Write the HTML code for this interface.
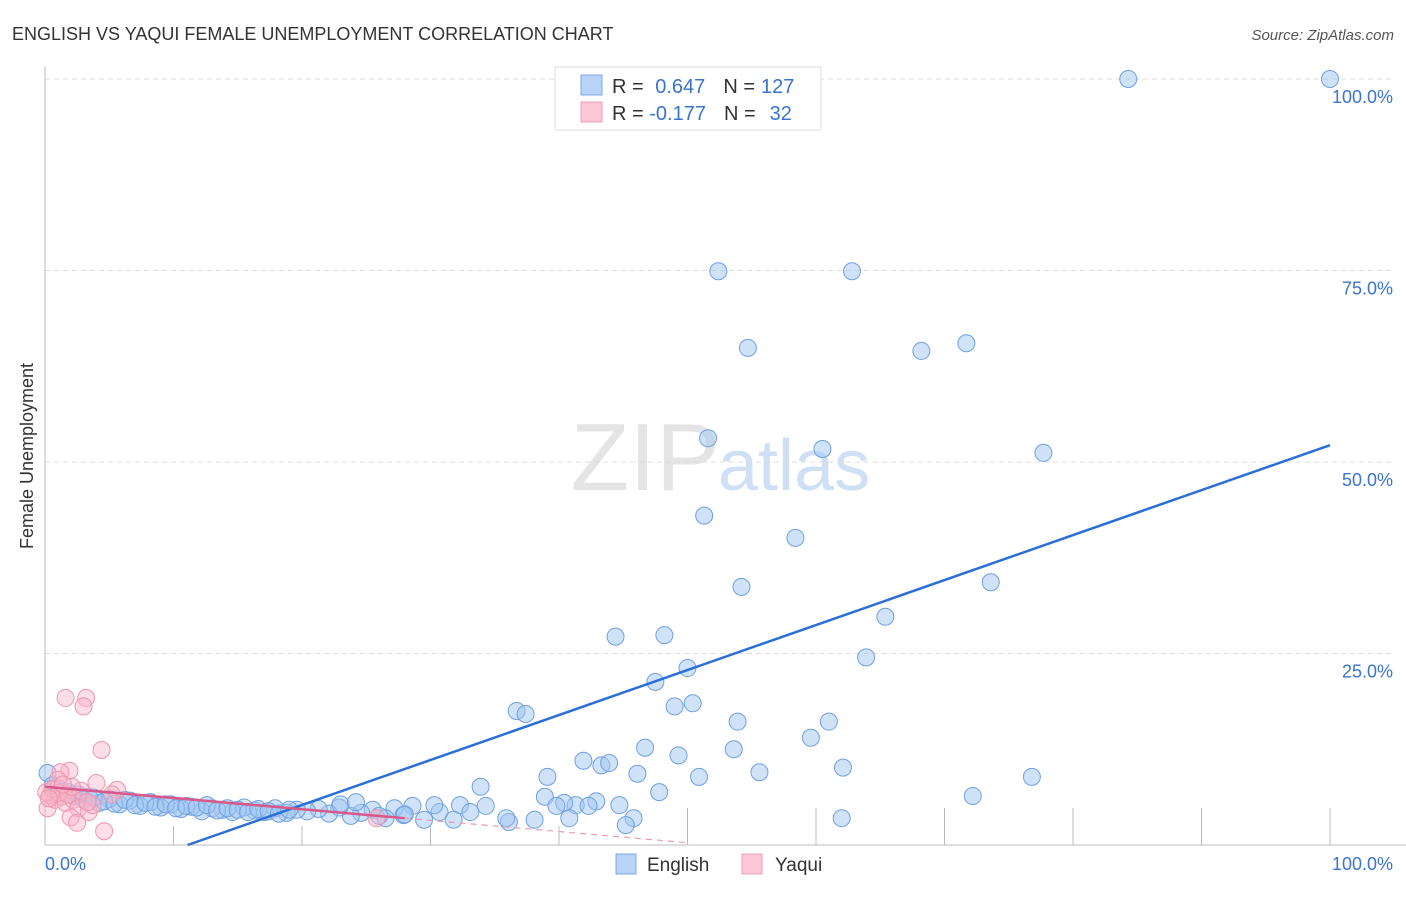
<!DOCTYPE html>
<html><head><meta charset="utf-8"><style>
body{margin:0;background:#fff;font-family:"Liberation Sans",sans-serif}
svg text{font-family:"Liberation Sans",sans-serif}
</style></head><body>
<svg id="chart" width="1406" height="892" xmlns="http://www.w3.org/2000/svg">
<text x="12" y="40" font-size="18" fill="#333">ENGLISH VS YAQUI FEMALE UNEMPLOYMENT CORRELATION CHART</text>
<text x="1394" y="40" font-size="15" fill="#555" font-style="italic" text-anchor="end">Source: ZipAtlas.com</text>
<text x="720" y="490" font-size="96" fill="#e4e4e4" text-anchor="end" font-family="Liberation Serif">ZIP</text>
<text x="718" y="490" font-size="72" fill="#cfe0f5">atlas</text>
<text transform="translate(33,456) rotate(-90)" font-size="18" fill="#333" text-anchor="middle">Female Unemployment</text>
<g id="grid"></g><g id="axes"></g><g id="marks"></g>
<g>
<rect x="555" y="67" width="266" height="63" fill="#fff" stroke="#ddd"/>
<rect x="581" y="75" width="21" height="20" fill="#b8d3f5" stroke="#7aa9e8"/>
<rect x="581" y="102" width="21" height="20" fill="#fcc8d6" stroke="#f09ab2"/>
<text x="612" y="93" font-size="20" fill="#333">R = <tspan fill="#3a73d0" dx="6">0.647</tspan><tspan dx="18" fill="#333">N =</tspan><tspan fill="#3a73d0" dx="6">127</tspan></text>
<text x="612" y="120" font-size="20" fill="#333">R = <tspan fill="#3a73d0">-0.177</tspan><tspan dx="18" fill="#333">N =</tspan><tspan fill="#3a73d0" dx="14">32</tspan></text>
</g>
<g>
<rect x="616" y="854" width="20" height="20" fill="#b8d3f5" stroke="#7aa9e8"/>
<text x="647" y="871" font-size="19" fill="#333">English</text>
<rect x="742" y="854" width="20" height="20" fill="#fcc8d6" stroke="#f09ab2"/>
<text x="775" y="871" font-size="19" fill="#333">Yaqui</text>
</g>
</svg>
<script>
const yTicks=[25,50,75,100];
const yTickLabels=["25.0%","50.0%","75.0%","100.0%"];
const xTickLabels=["0.0%","100.0%"];
const englishX=[84.3,100,52.4,62.8,54.7,68.2,71.7,51.6,60.5,77.7,51.3,58.4,54.2,73.6,44.4,48.2,65.4,50.0,47.5,63.9,49.0,50.4,36.7,37.4,53.9,61.0,59.6,46.7,49.3,53.6,41.9,43.3,43.9,46.1,50.9,55.6,62.1,76.8,39.1,33.9,38.9,47.8,72.2,62.0,45.8,45.2,44.7,42.9,41.3,40.4,39.8,40.8,42.3,38.1,36.1,35.9,34.3,32.3,33.1,30.7,30.3,31.8,29.5,28.6,27.2,26.5,27.9,25.5,24.6,23.8,22.9,22.1,21.3,20.4,19.6,18.8,17.9,17.1,16.3,15.5,14.6,13.8,13.0,12.2,11.4,10.6,9.8,9.0,8.2,7.4,6.6,5.8,5.0,4.2,3.4,2.6,1.8,1.0,0.2,0.6,1.4,2.2,3.0,3.8,4.6,5.4,6.2,7.0,7.8,8.6,9.4,10.2,11.0,11.8,12.6,13.4,14.2,15.0,15.8,16.6,17.4,18.2,19.0,23.0,24.2,26.0,28.0];
const englishY=[100,100,74.9,74.9,64.9,64.5,65.5,53.1,51.7,51.2,43.0,40.1,33.7,34.3,27.2,27.4,29.8,23.1,21.3,24.5,18.1,18.5,17.5,17.1,16.1,16.1,14.0,12.7,11.7,12.5,11.0,10.4,10.7,9.3,8.9,9.5,10.1,8.9,8.9,7.6,6.3,6.9,6.4,3.5,3.5,2.6,5.2,5.7,5.2,5.5,5.1,3.5,5.1,3.3,3.0,3.5,5.1,5.2,4.3,4.3,5.2,3.3,3.3,5.1,4.8,3.5,3.9,4.6,4.2,3.8,4.9,4.1,4.7,4.4,4.6,4.2,4.8,4.3,4.5,4.9,4.3,4.6,4.8,4.4,5.0,4.7,5.3,4.9,5.6,5.1,5.8,5.3,6.0,5.5,6.3,6.6,6.9,7.4,9.4,7.8,6.9,6.4,5.9,6.2,5.7,5.4,5.9,5.2,5.5,5.0,5.3,4.8,5.1,4.9,5.2,4.5,4.8,4.6,4.3,4.7,4.4,4.1,4.6,5.3,5.6,3.8,4.0];
const yaquiX=[1.6,3.2,3.0,4.4,1.9,1.2,4.0,1.0,5.6,0.2,0.4,0.8,1.3,1.6,2.2,2.6,2.0,2.5,3.4,3.7,4.6,0.1,0.6,1.1,1.8,2.8,3.3,0.3,5.2,2.1,25.8,1.4];
const yaquiY=[19.2,19.2,18.1,12.4,9.7,9.5,8.1,8.5,7.2,4.8,6.5,5.9,6.3,5.5,5.9,4.8,3.6,2.9,4.3,5.2,1.8,6.9,7.3,6.8,6.6,7.1,5.6,6.1,6.6,7.6,3.5,7.9];
const blueTrend=[11.1,100],blueTrendY=[0,52.2];
const pinkTrendX=[0,28,50],pinkTrendY=[7.6,3.5,0.3];
const X=v=>45+v*12.85, Y=v=>845-v*7.66;
const NS="http://www.w3.org/2000/svg";
function mk(tag,at,parent){const e=document.createElementNS(NS,tag);for(const k in at)e.setAttribute(k,at[k]);document.getElementById(parent).appendChild(e);return e;}
yTicks.forEach((t,i)=>{
 const g=mk('line',{x1:45,x2:1395,y1:Y(t),y2:Y(t),stroke:'#ddd','stroke-dasharray':'5,4'},'grid');
 
 
 const l=mk('text',{x:1393,y:Y(t)+24,'font-size':18,fill:'#3a73d0','text-anchor':'end'},'grid');l.textContent=yTickLabels[i];
 
 
});
let a=mk('line',{x1:45,x2:45,y1:67,y2:845,stroke:'#bbb'},'axes');


a=mk('line',{x1:45,x2:1406,y1:845,y2:845,stroke:'#bbb'},'axes');


for(let i=1;i<=10;i++){const tk=mk('line',{x1:X(i*10),x2:X(i*10),y1:i>=5?808:826,y2:845,stroke:'#bbb'},'axes');
 
 }
[[0,'start'],[100,'end']].forEach((p,i)=>{const t=mk('text',{x:i?1393:45,y:870,'font-size':18,fill:'#3a73d0','text-anchor':p[1]},'axes');t.textContent=xTickLabels[i];
 
 });
englishX.forEach((x,i)=>{const c=mk('circle',{cx:X(x),cy:Y(englishY[i]),r:8.5,fill:'rgba(160,197,242,0.5)',stroke:'#6fa0e2','stroke-width':1},'marks');
 
 });
yaquiX.forEach((x,i)=>{const c=mk('circle',{cx:X(x),cy:Y(yaquiY[i]),r:8.5,fill:'rgba(250,180,200,0.45)',stroke:'#ee94ae','stroke-width':1},'marks');
 
 });
let t=mk('line',{x1:X(blueTrend[0]),y1:Y(blueTrendY[0]),x2:X(blueTrend[1]),y2:Y(blueTrendY[1]),stroke:'#2a6fd6','stroke-width':2.5},'marks');


t=mk('line',{x1:X(pinkTrendX[0]),y1:Y(pinkTrendY[0]),x2:X(pinkTrendX[1]),y2:Y(pinkTrendY[1]),stroke:'#d9588a','stroke-width':2.5},'marks');


t=mk('line',{x1:X(pinkTrendX[1]),y1:Y(pinkTrendY[1]),x2:X(pinkTrendX[2]),y2:Y(pinkTrendY[2]),stroke:'#e89ab4','stroke-width':1.2,'stroke-dasharray':'6,5'},'marks');


</script>
</body></html>
